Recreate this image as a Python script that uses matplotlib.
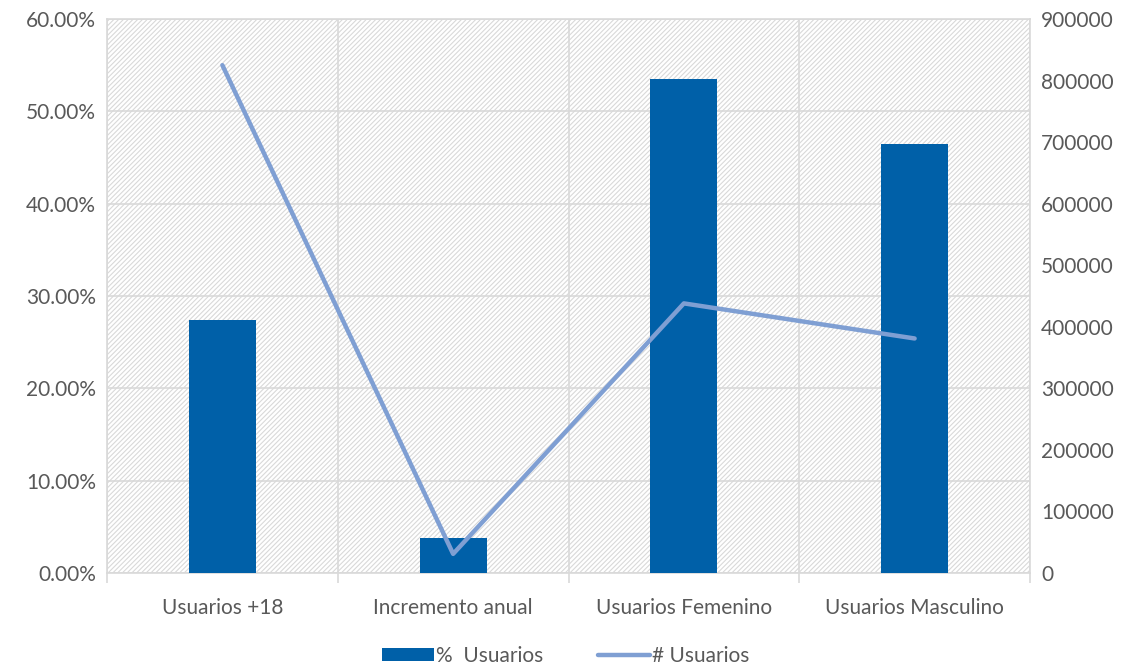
import matplotlib.pyplot as plt
import numpy as np

plt.rcParams['font.family'] = ['Lato', 'DejaVu Sans']
plt.rcParams['hatch.color'] = '#d9d9d9'
plt.rcParams['hatch.linewidth'] = 0.8

categorias = ['Usuarios +18', 'Incremento anual', 'Usuarios Femenino', 'Usuarios Masculino']
pct_usuarios = [27.4, 3.8, 53.5, 46.5]
num_usuarios = [825000, 31000, 438000, 381000]

gris = '#595959'
fig = plt.figure(figsize=(11.31, 6.68), dpi=100)
ax = fig.add_axes([107/1131, 1 - 573/668, (1030-107)/1131, (573-19)/668])
x = np.arange(len(categorias))

ax.patch.set_facecolor('white')
ax.patch.set_hatch('/' * 7)
ax.patch.set_edgecolor('#d9d9d9')

barras = ax.bar(x, pct_usuarios, width=0.29, color='#0060a8', label='%  Usuarios', zorder=3)
ax.set_xlim(-0.5, 3.5)
ax.set_ylim(0, 60)
ax.set_yticks(np.arange(0, 61, 10))
ax.set_yticklabels(['%.2f%%' % v for v in np.arange(0, 61, 10)])
ax.set_xticks(x)
ax.set_xticklabels(categorias)
ax.set_xticks(np.arange(-0.5, 3.6, 1), minor=True)
ax.tick_params(axis='x', which='major', length=0, pad=18)
ax.tick_params(axis='x', which='minor', length=7, color='#d9d9d9', width=1.2)
ax.tick_params(axis='y', length=0, pad=8)
ax.grid(True, axis='y', color='#d9d9d9', lw=1.2, zorder=1)
ax.grid(True, axis='x', which='minor', color='#d9d9d9', lw=1.2, zorder=1)
for s in ax.spines.values():
    s.set_color('#d9d9d9')
    s.set_linewidth(1.2)
for lab in ax.get_xticklabels() + ax.get_yticklabels():
    lab.set_color(gris)
    lab.set_fontsize(15)

ax2 = ax.twinx()
linea, = ax2.plot(x, num_usuarios, color='#7f9fd3', lw=3.2, solid_capstyle='round', label='# Usuarios', zorder=4)
ax2.set_ylim(0, 900000)
ax2.set_yticks(np.arange(0, 900001, 100000))
ax2.tick_params(axis='y', length=0, pad=8, labelcolor=gris, labelsize=15)
for s in ax2.spines.values():
    s.set_visible(False)

fig.legend([barras, linea], ['%  Usuarios', '# Usuarios'], loc='center', bbox_to_anchor=(0.5, 1 - 656/668),
           ncol=2, frameon=False, fontsize=15, labelcolor=gris, handlelength=2.5, handleheight=0.6,
           handletextpad=0.1, columnspacing=2.6)

fig.savefig('out.png', dpi=100)
